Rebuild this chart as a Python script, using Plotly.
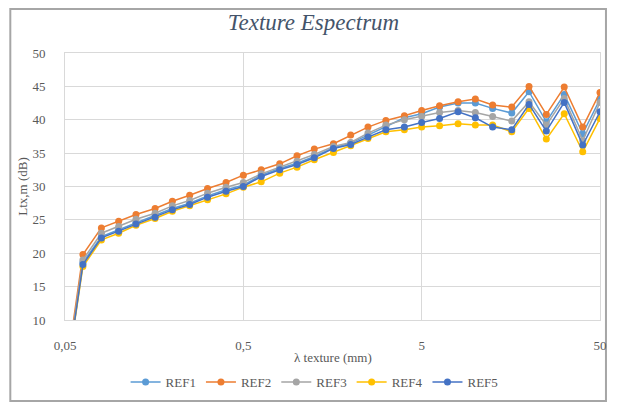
import plotly.graph_objects as go

lam = [0.05, 0.063, 0.08, 0.1, 0.125, 0.16, 0.2, 0.25, 0.315, 0.4, 0.5, 0.63, 0.8, 1, 1.25,
       1.6, 2, 2.5, 3.15, 4, 5, 6.3, 8, 10, 12.5, 16, 20, 25, 31.5, 40, 50]

ref1 = [0.0, 18.6, 22.5, 23.5, 24.6, 25.6, 26.7, 27.5, 28.6, 29.5, 30.2, 31.7, 32.7, 33.5, 34.5,
        35.8, 36.5, 37.7, 39.0, 40.3, 40.9, 41.9, 42.5, 42.5, 41.7, 41.0, 44.2, 39.7, 43.8, 37.9, 43.1]
ref2 = [1.0, 19.8, 23.8, 24.8, 25.8, 26.7, 27.8, 28.7, 29.7, 30.6, 31.7, 32.5, 33.4, 34.6, 35.6,
        36.4, 37.7, 38.9, 39.9, 40.6, 41.4, 42.1, 42.7, 43.1, 42.2, 41.9, 45.0, 40.8, 44.9, 38.9, 44.1]
ref3 = [0.5, 19.0, 23.0, 24.0, 25.1, 26.0, 27.1, 27.9, 29.0, 29.9, 30.6, 31.9, 32.9, 33.8, 34.8,
        36.0, 36.6, 38.0, 39.2, 40.0, 40.5, 41.1, 41.4, 41.1, 40.5, 39.8, 42.7, 39.2, 43.2, 36.9, 42.6]
ref4 = [0.0, 18.0, 22.0, 23.0, 24.2, 25.2, 26.3, 27.1, 28.0, 28.9, 29.9, 30.7, 32.0, 32.9, 34.0,
        35.1, 36.1, 37.2, 38.2, 38.5, 38.9, 39.1, 39.4, 39.2, 39.2, 38.2, 41.7, 37.1, 40.9, 35.2, 40.2]
ref5 = [0.0, 18.3, 22.3, 23.3, 24.4, 25.4, 26.5, 27.3, 28.4, 29.3, 30.0, 31.5, 32.5, 33.3, 34.3,
        35.7, 36.3, 37.4, 38.5, 38.9, 39.6, 40.2, 41.2, 40.3, 38.9, 38.5, 42.3, 38.3, 42.6, 36.2, 41.2]

names = ["REF1", "REF2", "REF3", "REF4", "REF5"]
series = [ref1, ref2, ref3, ref4, ref5]
colors = ["#5B9BD5", "#ED7D31", "#A5A5A5", "#FFC000", "#4472C4"]

x_tickvals = [0.05, 0.5, 5, 50]
x_ticktext = ["0,05", "0,5", "5", "50"]

fig = go.Figure()
for n, s, c in zip(names, series, colors):
    fig.add_trace(go.Scatter(x=lam, y=s, name=n, mode="lines+markers",
                             line=dict(color=c, width=1.5),
                             marker=dict(color=c, size=7)))

grid = "#D9D9D9"
font_family = "Liberation Serif"
# page body has an 8px default margin, so the figure is 611x400 and starts at (8, 8)
W, H = 611, 400
L, T, R, B = 57, 45, 16, 88
PW, PH = W - L - R, H - T - B
PLOT_L, PLOT_T, PLOT_B = 65, 53, 320  # page pixel positions of the plot area


def px_x(p):
    return (p - PLOT_L) / PW


def px_y(p):
    return (PLOT_B - p) / PH


fig.update_layout(
    width=W, height=H,
    margin=dict(l=L, r=R, t=T, b=B),
    paper_bgcolor="white", plot_bgcolor="white",
    font=dict(family=font_family, size=13, color="#595959"),
    title=dict(text="<i>Texture Espectrum</i>", x=0.5, xanchor="center", y=1 - 14 / H, yanchor="middle",
               font=dict(family=font_family, size=23, color="#44546A")),
    showlegend=True,
    legend=dict(orientation="h", x=px_x(316), xanchor="center",
                yref="container", y=1 - (382 - 8) / H, yanchor="middle",
                font=dict(family=font_family, size=13, color="#595959"),
                itemwidth=30, tracegroupgap=0),
    xaxis=dict(type="log", range=[-1.30103, 1.69897], tickvals=x_tickvals, ticktext=x_ticktext,
               showgrid=True, gridcolor=grid, gridwidth=1, zeroline=False,
               showline=True, linecolor=grid, mirror=True, ticks="", ticklabelstandoff=13),
    yaxis=dict(range=[10, 50], dtick=5, showgrid=True, gridcolor=grid, gridwidth=1, zeroline=False,
               showline=True, linecolor=grid, mirror=True, ticks="", ticklabelstandoff=16),
)

fig.add_annotation(text="λ texture (mm)", xref="paper", yref="paper", x=0.5, y=px_y(357),
                   xanchor="center", yanchor="middle", showarrow=False,
                   font=dict(family=font_family, size=13, color="#595959"))
fig.add_annotation(text="Ltx,m (dB)", xref="paper", yref="paper", x=px_x(22), y=0.5,
                   xanchor="center", yanchor="middle", showarrow=False, textangle=-90,
                   font=dict(family=font_family, size=13, color="#595959"))

# outer chart frame (target pixel coords converted to paper coords)
fig.add_shape(type="rect", xref="paper", yref="paper",
              x0=px_x(10), x1=px_x(609), y0=px_y(401), y1=px_y(9),
              line=dict(color="#A6A6A6", width=2), fillcolor="rgba(0,0,0,0)", layer="below")

fig.write_html("out.html")
